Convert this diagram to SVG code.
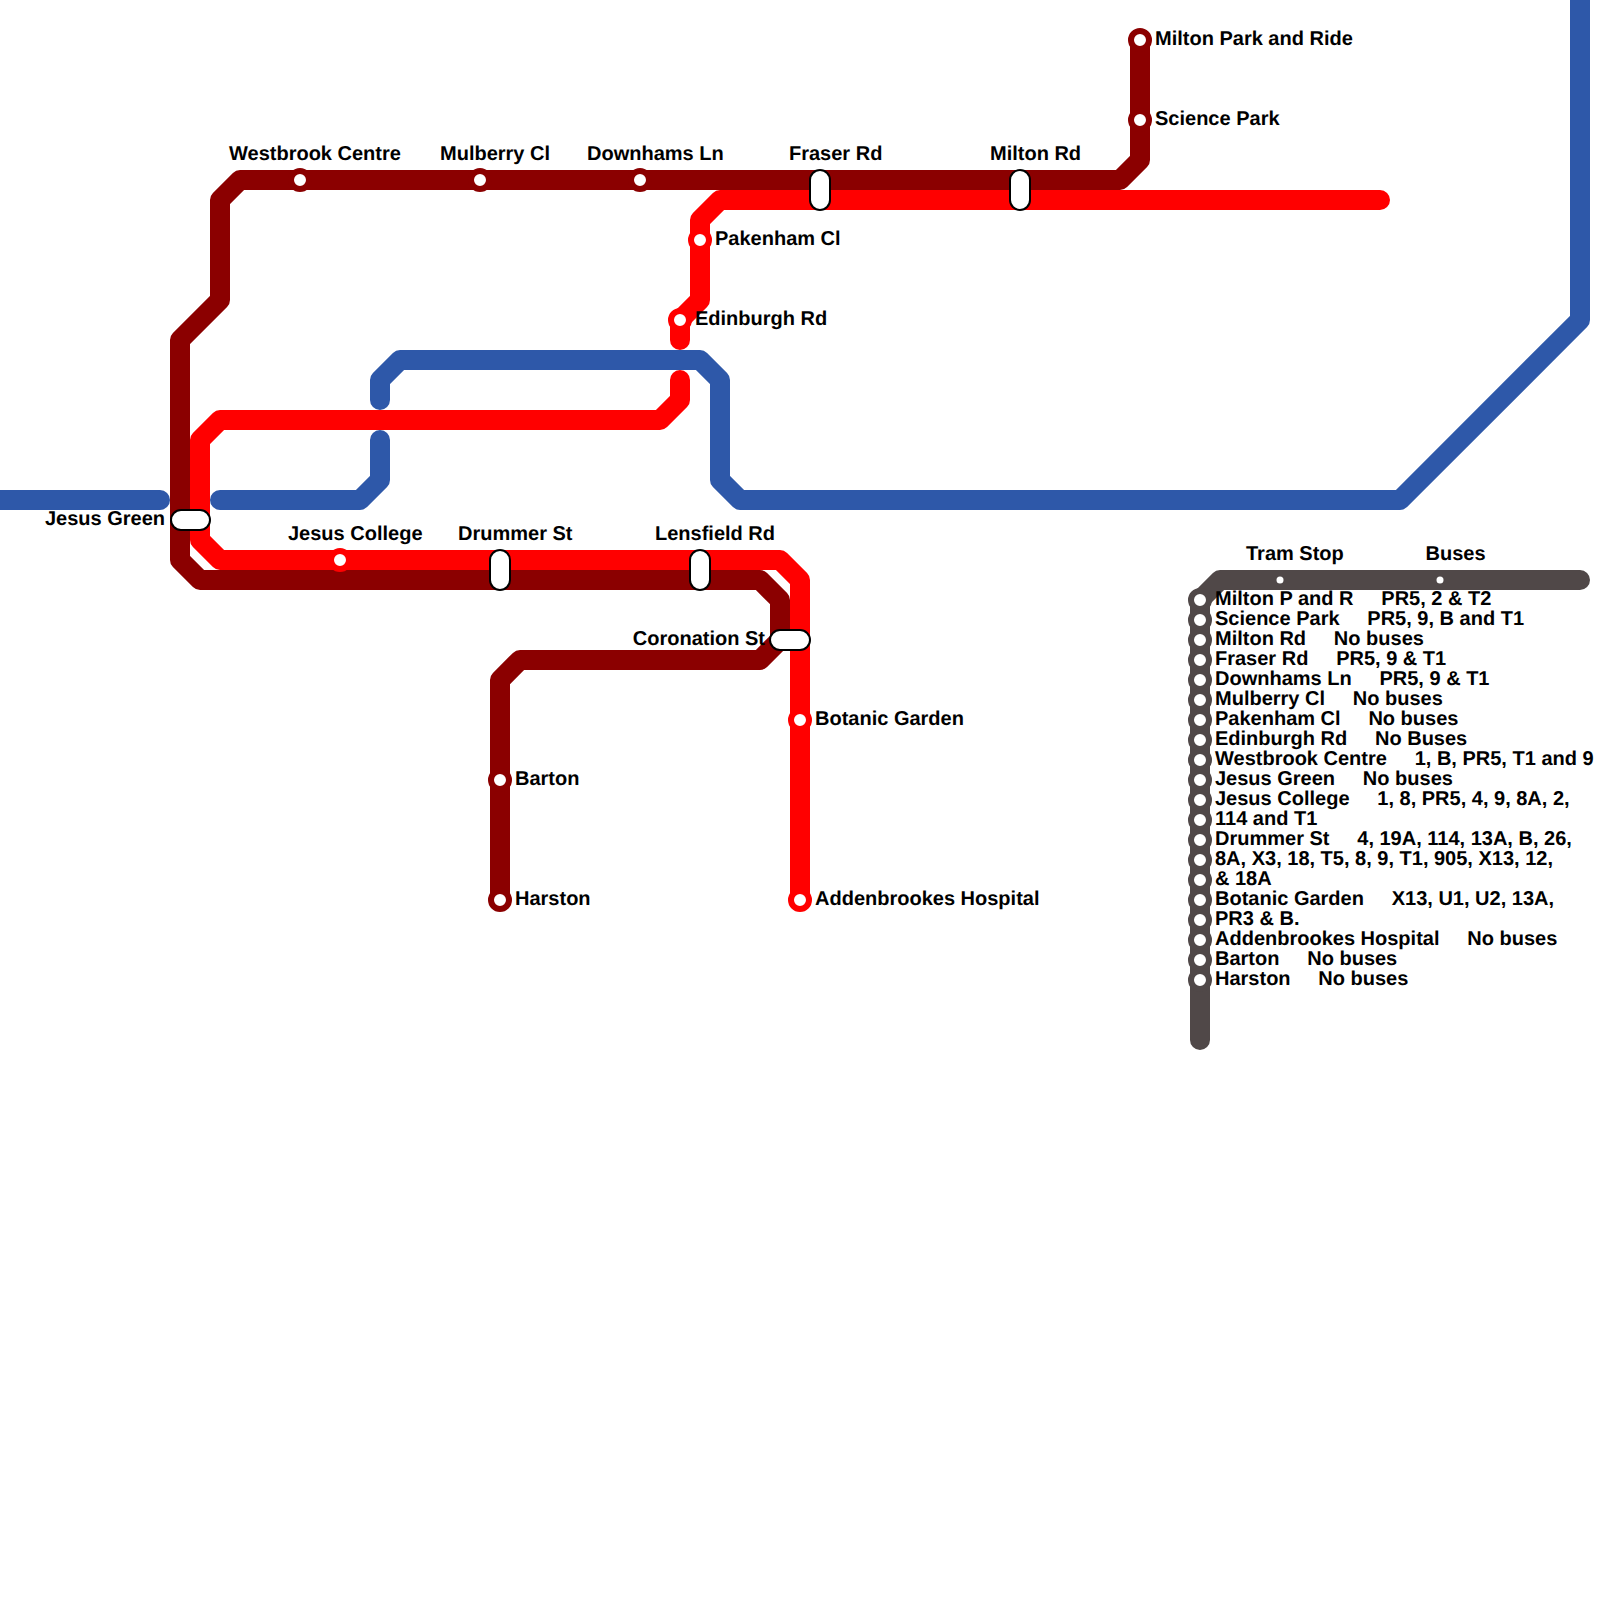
<svg xmlns="http://www.w3.org/2000/svg" width="1600" height="1600" viewBox="0 0 1600 1600">
<style>
.l{fill:none;stroke-width:20;stroke-linecap:round;stroke-linejoin:round}
.dr{stroke:#8b0000}.r{stroke:#ff0000}.b{stroke:#2e58a9}.k{stroke:#504848}
.s{fill:#fff;stroke-width:6}
.p{fill:#fff;stroke:#000;stroke-width:2}
text{font-family:"Liberation Sans",Arial,sans-serif;font-weight:700;font-size:20px;fill:#000;text-rendering:geometricPrecision}
.e{text-anchor:end}
</style>
<defs>
<circle id="kd" r="9" fill="#fff" stroke="#504848" stroke-width="6"/>
</defs>
<rect width="1600" height="1600" fill="#fff"/>
<g id="connectors">
<path class="l b" d="M0 500H160"/>
<path class="l b" d="M220 500H360L380 480V440"/>
<path class="l b" d="M380 400V380L400 360H700L720 380V480L740 500H1400L1580 320V0"/>
<path class="l r" d="M1380 200H720L700 220V300L680 320V340"/>
<path class="l r" d="M680 380V400L660 420H220L200 440V540L220 560H780L800 580V900"/>
<path class="l dr" d="M1140 40V160L1120 180H240L220 200V300L180 340V560L200 580H760L780 600V640L760 660H520L500 680V900"/>
<path class="l k" d="M1200 1040V600L1220 580H1580"/>
</g>
<g id="westbrook-centre"><circle class="s" stroke="#8b0000" cx="300" cy="180" r="9"/><text x="229" y="160">Westbrook Centre</text></g>
<g id="mulberry-cl"><circle class="s" stroke="#8b0000" cx="480" cy="180" r="9"/><text x="440" y="160">Mulberry Cl</text></g>
<g id="downhams-ln"><circle class="s" stroke="#8b0000" cx="640" cy="180" r="9"/><text x="587" y="160">Downhams Ln</text></g>
<g id="fraser-rd"><rect class="p" x="810" y="170" width="20" height="40" rx="10"/><text x="789" y="160">Fraser Rd</text></g>
<g id="milton-rd"><rect class="p" x="1010" y="170" width="20" height="40" rx="10"/><text x="990" y="160">Milton Rd</text></g>
<g id="milton-park-and-ride"><circle class="s" stroke="#8b0000" cx="1140" cy="40" r="9"/><text x="1155" y="45">Milton Park and Ride</text></g>
<g id="science-park"><circle class="s" stroke="#8b0000" cx="1140" cy="120" r="9"/><text x="1155" y="125">Science Park</text></g>
<g id="pakenham-cl"><circle class="s" stroke="#ff0000" cx="700" cy="240" r="9"/><text x="715" y="245">Pakenham Cl</text></g>
<g id="edinburgh-rd"><circle class="s" stroke="#ff0000" cx="680" cy="320" r="9"/><text x="695" y="325">Edinburgh Rd</text></g>
<g id="jesus-green"><rect class="p" x="171" y="510" width="39" height="20" rx="10"/><text class="e" x="165" y="525">Jesus Green</text></g>
<g id="jesus-college"><circle class="s" stroke="#ff0000" cx="340" cy="560" r="9"/><text x="288" y="540">Jesus College</text></g>
<g id="drummer-st"><rect class="p" x="490" y="550" width="20" height="40" rx="10"/><text x="458" y="540">Drummer St</text></g>
<g id="lensfield-rd"><rect class="p" x="690" y="550" width="20" height="40" rx="10"/><text x="655" y="540">Lensfield Rd</text></g>
<g id="coronation-st"><rect class="p" x="770" y="630" width="40" height="20" rx="10"/><text class="e" x="765" y="645">Coronation St</text></g>
<g id="botanic-garden"><circle class="s" stroke="#ff0000" cx="800" cy="720" r="9"/><text x="815" y="725">Botanic Garden</text></g>
<g id="addenbrookes-hospital"><circle class="s" stroke="#ff0000" cx="800" cy="900" r="9"/><text x="815" y="905">Addenbrookes Hospital</text></g>
<g id="barton"><circle class="s" stroke="#8b0000" cx="500" cy="780" r="9"/><text x="515" y="785">Barton</text></g>
<g id="harston"><circle class="s" stroke="#8b0000" cx="500" cy="900" r="9"/><text x="515" y="905">Harston</text></g>
<g id="key-tram-stop"><circle cx="1280" cy="580" r="3.5" fill="#fff"/><text x="1246" y="560">Tram Stop</text></g>
<g id="key-buses"><circle cx="1440" cy="580" r="3.5" fill="#fff"/><text x="1425.500" y="560">Buses</text></g>
<g id="key-1"><use href="#kd" x="1200" y="600"/><text x="1215" y="605">Milton P and R&#160;&#160;&#160;&#160;&#160;PR5, 2 &amp; T2</text></g>
<g id="key-2"><use href="#kd" x="1200" y="620"/><text x="1215" y="625">Science Park&#160;&#160;&#160;&#160;&#160;PR5, 9, B and T1</text></g>
<g id="key-3"><use href="#kd" x="1200" y="640"/><text x="1215" y="645">Milton Rd&#160;&#160;&#160;&#160;&#160;No buses</text></g>
<g id="key-4"><use href="#kd" x="1200" y="660"/><text x="1215" y="665">Fraser Rd&#160;&#160;&#160;&#160;&#160;PR5, 9 &amp; T1</text></g>
<g id="key-5"><use href="#kd" x="1200" y="680"/><text x="1215" y="685">Downhams Ln&#160;&#160;&#160;&#160;&#160;PR5, 9 &amp; T1</text></g>
<g id="key-6"><use href="#kd" x="1200" y="700"/><text x="1215" y="705">Mulberry Cl&#160;&#160;&#160;&#160;&#160;No buses</text></g>
<g id="key-7"><use href="#kd" x="1200" y="720"/><text x="1215" y="725">Pakenham Cl&#160;&#160;&#160;&#160;&#160;No buses</text></g>
<g id="key-8"><use href="#kd" x="1200" y="740"/><text x="1215" y="745">Edinburgh Rd&#160;&#160;&#160;&#160;&#160;No Buses</text></g>
<g id="key-9"><use href="#kd" x="1200" y="760"/><text x="1215" y="765">Westbrook Centre&#160;&#160;&#160;&#160;&#160;1, B, PR5, T1 and 9</text></g>
<g id="key-10"><use href="#kd" x="1200" y="780"/><text x="1215" y="785">Jesus Green&#160;&#160;&#160;&#160;&#160;No buses</text></g>
<g id="key-11"><use href="#kd" x="1200" y="800"/><text x="1215" y="805">Jesus College&#160;&#160;&#160;&#160;&#160;1, 8, PR5, 4, 9, 8A, 2,</text></g>
<g id="key-12"><use href="#kd" x="1200" y="820"/><text x="1215" y="825">114 and T1</text></g>
<g id="key-13"><use href="#kd" x="1200" y="840"/><text x="1215" y="845">Drummer St&#160;&#160;&#160;&#160;&#160;4, 19A, 114, 13A, B, 26,</text></g>
<g id="key-14"><use href="#kd" x="1200" y="860"/><text x="1215" y="865">8A, X3, 18, T5, 8, 9, T1, 905, X13, 12,</text></g>
<g id="key-15"><use href="#kd" x="1200" y="880"/><text x="1215" y="885">&amp; 18A</text></g>
<g id="key-16"><use href="#kd" x="1200" y="900"/><text x="1215" y="905">Botanic Garden&#160;&#160;&#160;&#160;&#160;X13, U1, U2, 13A,</text></g>
<g id="key-17"><use href="#kd" x="1200" y="920"/><text x="1215" y="925">PR3 &amp; B.</text></g>
<g id="key-18"><use href="#kd" x="1200" y="940"/><text x="1215" y="945">Addenbrookes Hospital&#160;&#160;&#160;&#160;&#160;No buses</text></g>
<g id="key-19"><use href="#kd" x="1200" y="960"/><text x="1215" y="965">Barton&#160;&#160;&#160;&#160;&#160;No buses</text></g>
<g id="key-20"><use href="#kd" x="1200" y="980"/><text x="1215" y="985">Harston&#160;&#160;&#160;&#160;&#160;No buses</text></g>
</svg>
